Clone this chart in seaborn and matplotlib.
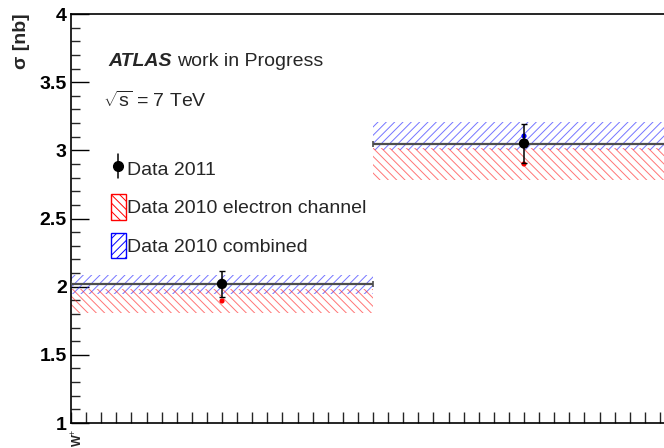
import matplotlib
matplotlib.use("Agg")
import matplotlib.pyplot as plt
from matplotlib.patches import Patch
from matplotlib.lines import Line2D
from matplotlib.ticker import MultipleLocator, NullFormatter
import seaborn as sns
import pandas as pd

# Cross-section measurements per bin (bin centres at 0.5, 1.5)
bin_centres = [0.5, 1.5]
bin_half_width = [0.5, 0.5]
bin_labels = ["W$^{+}$"]

data2011 = [2.02, 3.05]
data2011_err = [0.093, 0.14]

elec2010 = [1.895, 2.90]
elec2010_err = [0.085, 0.12]

comb2010 = [2.016, 3.105]
comb2010_err = [0.07, 0.105]

y_ticks = [1.0, 1.5, 2.0, 2.5, 3.0, 3.5, 4.0]
y_tick_labels = ["1", "1.5", "2", "2.5", "3", "3.5", "4"]

sns.set_theme(style="ticks")
plt.rcParams["font.family"] = ["Liberation Sans", "DejaVu Sans"]
plt.rcParams["mathtext.fontset"] = "custom"
plt.rcParams["mathtext.rm"] = "Liberation Sans"
plt.rcParams["mathtext.bf"] = "Liberation Sans:bold"
plt.rcParams["hatch.linewidth"] = 0.7

W, H = 664, 448
fig = plt.figure(figsize=(W / 100, H / 100), dpi=100)
ax = fig.add_axes([71 / W, 25 / H, 604 / W, 409 / H])

df = pd.DataFrame({
    "x": bin_centres,
    "d11": data2011, "d11e": data2011_err,
    "el": elec2010, "ele": elec2010_err,
    "cb": comb2010, "cbe": comb2010_err,
})

# hatched bands for the 2010 results, one per bin
for _, r in df.iterrows():
    lo, hi = r["x"] - 0.5, r["x"] + 0.5
    ax.fill_between([lo, hi], r["cb"] - r["cbe"], r["cb"] + r["cbe"],
                    facecolor="none", edgecolor=(0.1, 0.1, 1, 0.6),
                    hatch="////", linewidth=0, zorder=1)
    ax.fill_between([lo, hi], r["el"] - r["ele"], r["el"] + r["ele"],
                    facecolor="none", edgecolor=(1, 0.1, 0.1, 0.6),
                    hatch="\\\\\\\\", linewidth=0, zorder=1)

# 2010 central values
sns.scatterplot(data=df, x="x", y="el", ax=ax, color="red", s=14,
                edgecolor="none", zorder=4, legend=False)
sns.scatterplot(data=df, x="x", y="cb", ax=ax, color="blue", s=14,
                edgecolor="none", zorder=4, legend=False)

# 2011 data: bin-width bar plus statistical error
ax.errorbar(df["x"], df["d11"], xerr=bin_half_width, fmt="none",
            ecolor="#4d4d4d", elinewidth=1.6, capsize=2.5, capthick=1.2,
            zorder=3)
ax.errorbar(df["x"], df["d11"], yerr=df["d11e"], fmt="none",
            ecolor="black", elinewidth=1.1, capsize=2, capthick=1.0,
            zorder=5)
sns.scatterplot(data=df, x="x", y="d11", ax=ax, color="black", s=55,
                edgecolor="none", zorder=6, legend=False)

ax.set_xlim(0, 2)
ax.set_ylim(1, 4)

# axis styling
for side in ["left", "bottom", "top", "right"]:
    ax.spines[side].set_linewidth(1.2)
    ax.spines[side].set_color("black")

ax.set_yticks(y_ticks)
ax.set_yticklabels(y_tick_labels, fontweight="bold", fontsize=14)
ax.yaxis.set_minor_locator(MultipleLocator(0.1))
ax.tick_params(axis="y", which="major", direction="in", length=13, width=1.0,
               pad=3, colors="black")
ax.tick_params(axis="y", which="minor", direction="in", length=6.5, width=1.0)

ax.xaxis.set_major_locator(MultipleLocator(0.05))
ax.xaxis.set_major_formatter(NullFormatter())
ax.tick_params(axis="x", which="major", direction="in", length=8, width=1.0)
ax.set_xlabel("")
ax.set_ylabel("")

fig.text(13 / W, 1 - 13 / H, "σ [nb]", rotation=90, ha="left",
         va="top", fontsize=14, fontweight="bold")

fig.text(78 / W, 1 - 447 / H, bin_labels[0], rotation=90, ha="center",
         va="bottom", fontsize=9, fontweight="bold")

fig.text(108 / W, 1 - 66 / H, "ATLAS", fontsize=14, fontweight="bold",
         fontstyle="italic")
fig.text(177 / W, 1 - 66 / H, "work in Progress", fontsize=14)
fig.text(103 / W, 1 - 107 / H, r"$\sqrt{\mathrm{s}}$ = 7 TeV", fontsize=14)

handles = [
    Line2D([0], [0], color="black", marker="o", markersize=7, lw=0),
    Patch(facecolor="none", edgecolor="red", hatch="\\\\\\\\", lw=1.0),
    Patch(facecolor="none", edgecolor="blue", hatch="////", lw=1.0),
]
leg = ax.legend(handles, ["Data 2011", "Data 2010 electron channel",
                          "Data 2010 combined"],
                loc="upper left", bbox_to_anchor=(111 / W, 1 - 156 / H),
                bbox_transform=fig.transFigure, frameon=False, fontsize=14,
                borderpad=0, borderaxespad=0, handlelength=0.75,
                handleheight=1.65, handletextpad=0.05, labelspacing=0.65)
# vertical error line through the Data 2011 legend marker
fig.add_artist(Line2D([118 / W, 118 / W], [1 - 154 / H, 1 - 178 / H],
                      color="black", lw=1.1, transform=fig.transFigure))

fig.savefig("out.png", dpi=100)
